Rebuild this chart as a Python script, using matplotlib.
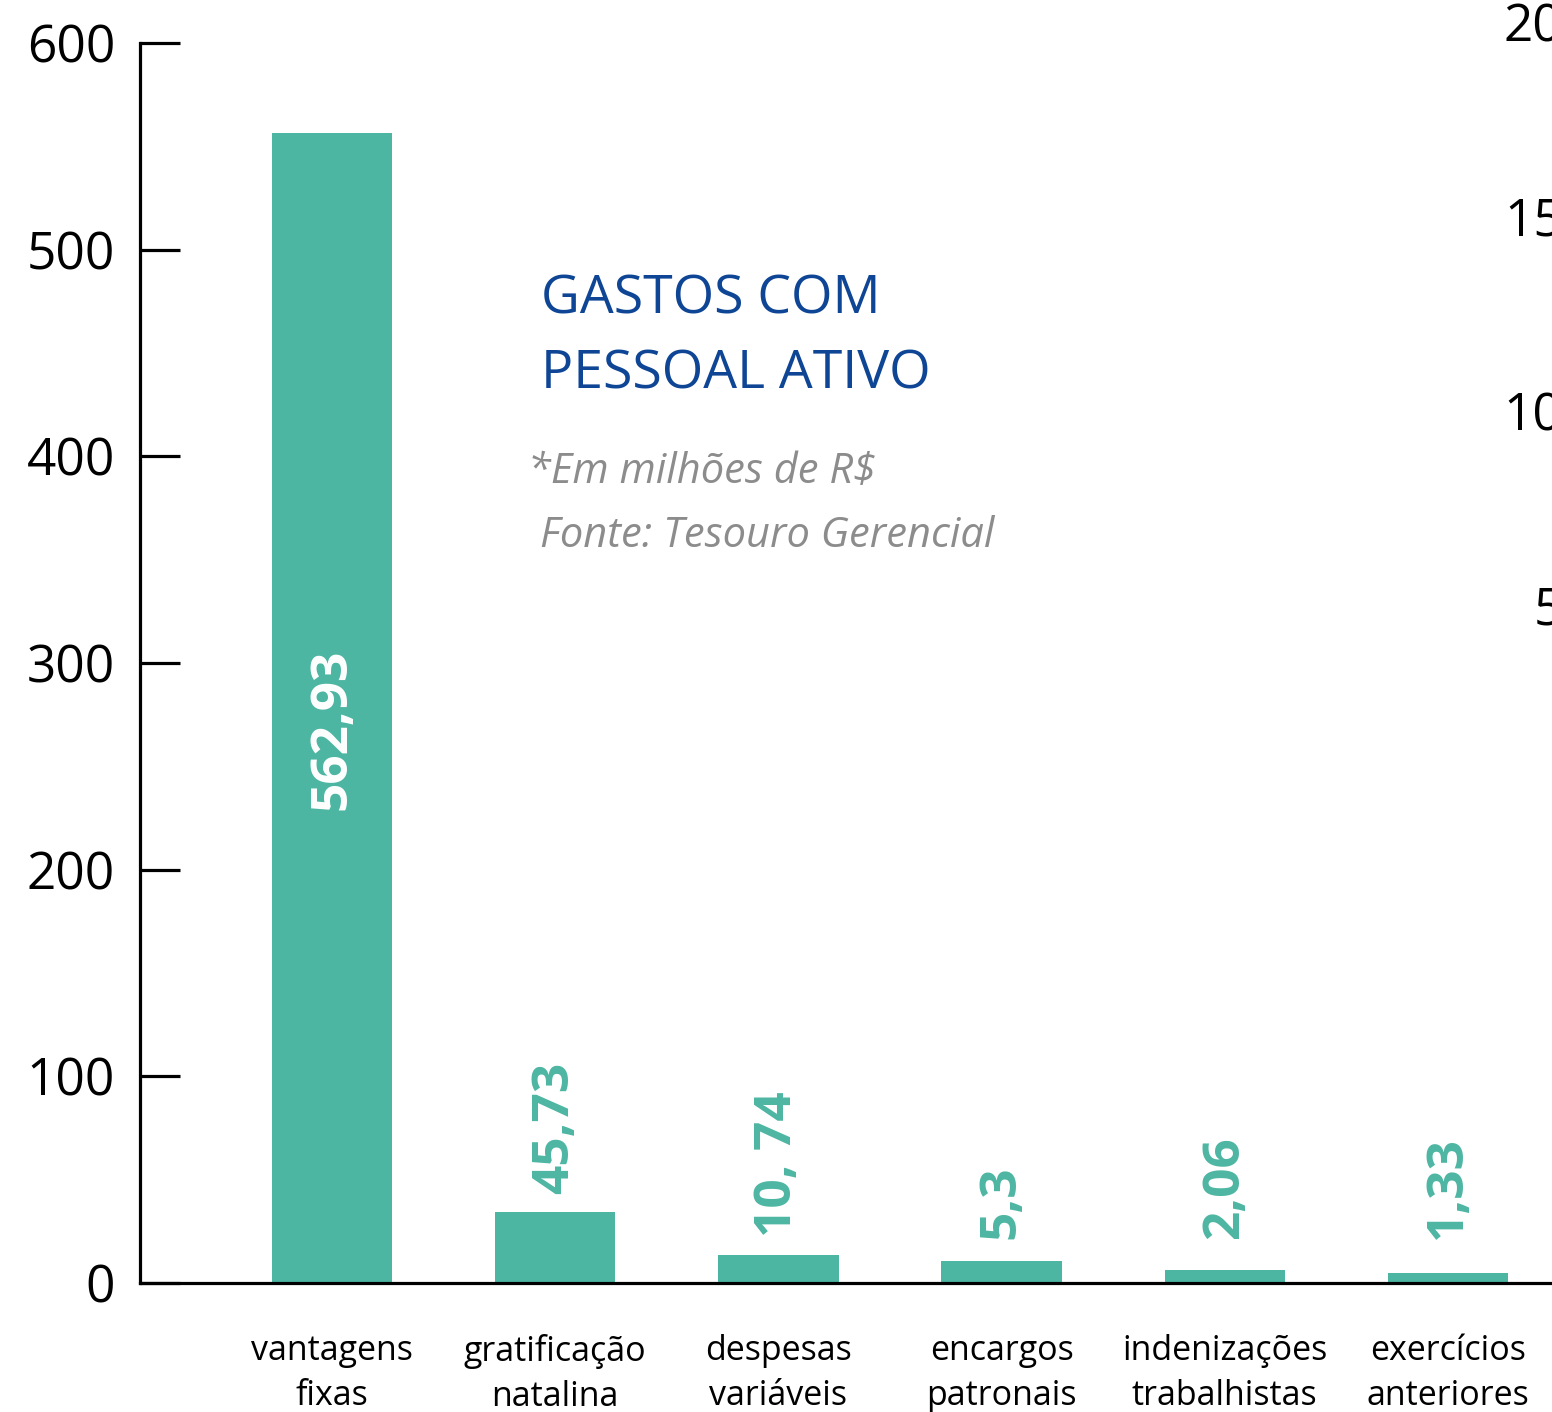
import matplotlib
matplotlib.use("Agg")
import matplotlib.pyplot as plt
import numpy as np

plt.rcParams['font.family'] = ['Open Sans', 'DejaVu Sans']

# ---- data ----
categories = ["vantagens\nfixas", "gratificação\nnatalina", "despesas\nvariáveis",
              "encargos\npatronais", "indenizações\ntrabalhistas", "exercícios\nanteriores"]
bar_heights = [556.3, 34.3, 13.7, 10.8, 6.4, 5.0]   # heights as drawn in the picture
value_labels = ["562,93", "45,73", "10, 74", "5,3", "2,06", "1,33"]
left_ticks = [0, 100, 200, 300, 400, 500, 600]
right_ticks = [5, 10, 15, 20]

BAR = "#4DB6A3"
BLUE = "#0E4595"
GRAY = "#8C8C8C"

W, H = 1552, 1412
fig = plt.figure(figsize=(W / 100, H / 100), dpi=100)

# main axes: x 140..1552 px, y 43..1283 px
ax = fig.add_axes([140 / W, 1 - 1283 / H, (W - 140) / W, (1283 - 43) / H])
x = np.arange(len(categories))
ax.bar(x, bar_heights, width=0.54, color=BAR, zorder=1)
ax.set_xlim(-0.86, 5.466)
ax.set_ylim(0, 600)

for s in ["top", "right"]:
    ax.spines[s].set_visible(False)
ax.spines["left"].set_linewidth(2.3)
ax.spines["bottom"].set_linewidth(2.3)
ax.spines["left"].set_zorder(3)
ax.spines["bottom"].set_zorder(3)

ax.set_yticks(left_ticks)
ax.set_yticklabels([str(t) for t in left_ticks])
ax.tick_params(axis="y", direction="in", length=29, width=2.3, pad=18,
               labelsize=37, colors="black")
ax.set_xticks(x)
ax.set_xticklabels(categories, fontsize=24.5, linespacing=1.42)
ax.tick_params(axis="x", length=0, pad=37)

# value labels
floor = 12.5
for i, (h, lab) in enumerate(zip(bar_heights, value_labels)):
    if i == 0:
        ax.text(x[i], h * 0.482, lab, rotation=90, ha="center", va="center",
                color="white", fontsize=37, fontweight="bold")
    else:
        ax.annotate(lab, (x[i], max(h, floor)), xytext=(0, 13),
                    textcoords="offset points", rotation=90,
                    ha="center", va="bottom", color=BAR,
                    fontsize=37, fontweight="bold")

# title and subtitle
fig.text(541 / W, 1 - 313 / H, "GASTOS COM", color=BLUE, fontsize=38.5,
         ha="left", va="baseline")
fig.text(541 / W, 1 - 388 / H, "PESSOAL ATIVO", color=BLUE, fontsize=38.5,
         ha="left", va="baseline")
fig.text(528 / W, 1 - 483 / H, "*Em milhões de R$", color=GRAY, fontsize=30,
         style="italic", ha="left", va="baseline")
fig.text(540 / W, 1 - 547 / H, "Fonte: Tesouro Gerencial", color=GRAY,
         fontsize=30, style="italic", ha="left", va="baseline")

# secondary (cut-off) axis at the right edge
ax2 = fig.add_axes([1578 / W, 1 - 799.6 / H, 0.01, (799.6 - 22) / H])
ax2.set_ylim(0, 20)
ax2.set_yticks(right_ticks)
ax2.set_yticklabels([str(t) for t in right_ticks])
ax2.tick_params(axis="y", length=0, pad=11, labelsize=37)
ax2.set_xticks([])
for s in ax2.spines.values():
    s.set_visible(False)
ax2.patch.set_visible(False)

fig.savefig("out.png", dpi=100)
